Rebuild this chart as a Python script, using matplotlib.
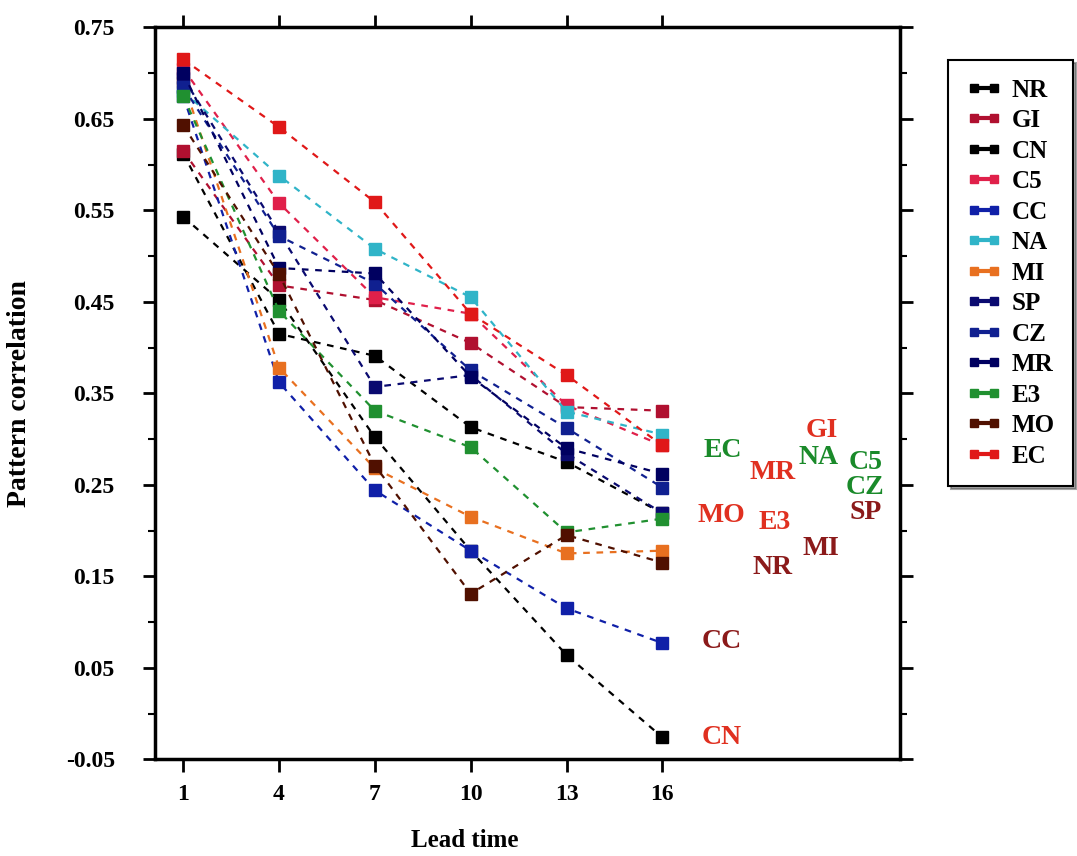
import matplotlib
matplotlib.use("Agg")
import matplotlib.pyplot as plt
from matplotlib.ticker import MultipleLocator
import numpy as np

plt.rcParams['font.family'] = ['Liberation Serif', 'DejaVu Serif']
plt.rcParams['font.weight'] = 'bold'
plt.rcParams['axes.labelweight'] = 'bold'
plt.rcParams['axes.unicode_minus'] = False

lead = [1, 4, 7, 10, 13, 16]

models = ["NR", "GI", "CN", "C5", "CC", "NA", "MI", "SP", "CZ", "MR", "E3", "MO", "EC"]
nr = [0.612, 0.415, 0.391, 0.313, 0.275, 0.219]
gi = [0.615, 0.468, 0.452, 0.405, 0.335, 0.331]
cn = [0.543, 0.452, 0.302, 0.178, 0.064, -0.026]
c5 = [0.705, 0.558, 0.455, 0.437, 0.337, 0.293]
cc = [0.675, 0.362, 0.244, 0.178, 0.115, 0.077]
na = [0.680, 0.588, 0.508, 0.455, 0.330, 0.305]
mi = [0.690, 0.378, 0.268, 0.215, 0.175, 0.178]
sp = [0.695, 0.526, 0.357, 0.370, 0.284, 0.219]
cz = [0.685, 0.522, 0.470, 0.375, 0.312, 0.247]
mr = [0.700, 0.487, 0.481, 0.368, 0.290, 0.262]
e3 = [0.675, 0.440, 0.331, 0.291, 0.198, 0.213]
mo = [0.643, 0.480, 0.271, 0.131, 0.195, 0.165]
ec = [0.715, 0.641, 0.559, 0.437, 0.370, 0.293]
series = [nr, gi, cn, c5, cc, na, mi, sp, cz, mr, e3, mo, ec]

colors = ["#000000", "#b01030", "#000000", "#e0204a", "#1020a8", "#30b4c8", "#e87020",
          "#0a0a70", "#102090", "#000060", "#209030", "#501000", "#e01818"]

# labels scattered to the right of the lines
green, red, dred = "#1a8a2a", "#e03020", "#8b1a1a"
tags = [("EC", 17.9, 0.288, green), ("MR", 19.45, 0.263, red), ("GI", 21.0, 0.309, red),
        ("NA", 20.9, 0.280, green), ("C5", 22.35, 0.274, green), ("CZ", 22.35, 0.247, green),
        ("SP", 22.35, 0.220, dred), ("MO", 17.85, 0.216, red), ("E3", 19.5, 0.209, red),
        ("NR", 19.45, 0.160, dred), ("MI", 20.95, 0.180, dred), ("CC", 17.85, 0.079, dred),
        ("CN", 17.85, -0.026, red)]

fig = plt.figure(figsize=(10.77, 8.56), dpi=100)
ax = fig.add_axes([0.144, 0.113, 0.692, 0.855])

for name, vals, col in zip(models, series, colors):
    ax.plot(lead, vals, linestyle=(0, (3, 3)), linewidth=1.6, color=col,
            marker='s', markersize=8.5, label=name)

for txt, x, y, col in tags:
    ax.text(x, y, txt, color=col, fontsize=20, ha='center', va='center')

ax.set_xlim(0.12, 23.45)
ax.set_ylim(-0.05, 0.75)
ax.set_xticks(lead)
ax.yaxis.set_major_locator(MultipleLocator(0.1))
ax.yaxis.set_minor_locator(MultipleLocator(0.05))
ax.set_yticks(np.arange(-0.05, 0.76, 0.1))
ax.tick_params(which='both', direction='out', top=True, right=True, width=2, labelsize=17)
ax.tick_params(which='major', length=9)
ax.tick_params(which='minor', length=5, width=1.5)
ax.tick_params(axis='y', which='major', pad=20)
ax.tick_params(axis='x', which='major', pad=9)
for s in ax.spines.values():
    s.set_linewidth(2.5)

ax.set_xlabel("Lead time", fontsize=18)
ax.set_ylabel("Pattern correlation", fontsize=20)
ax.xaxis.set_label_coords(0.416, -0.095)
ax.yaxis.set_label_coords(-0.165, 0.5)

leg = ax.legend(loc='upper left', bbox_to_anchor=(0.880, 0.930), bbox_transform=fig.transFigure,
                fontsize=18, frameon=True, fancybox=False, shadow=True, numpoints=2,
                handlelength=1.4, handletextpad=0.4, labelspacing=0.3, borderpad=0.75,
                borderaxespad=0, markerscale=0.6)
leg.get_frame().set_edgecolor('black')
leg.get_frame().set_linewidth(1.5)
for h in leg.get_lines():
    h.set_linestyle('-')
    h.set_linewidth(3)

fig.savefig("out.png", dpi=100)
